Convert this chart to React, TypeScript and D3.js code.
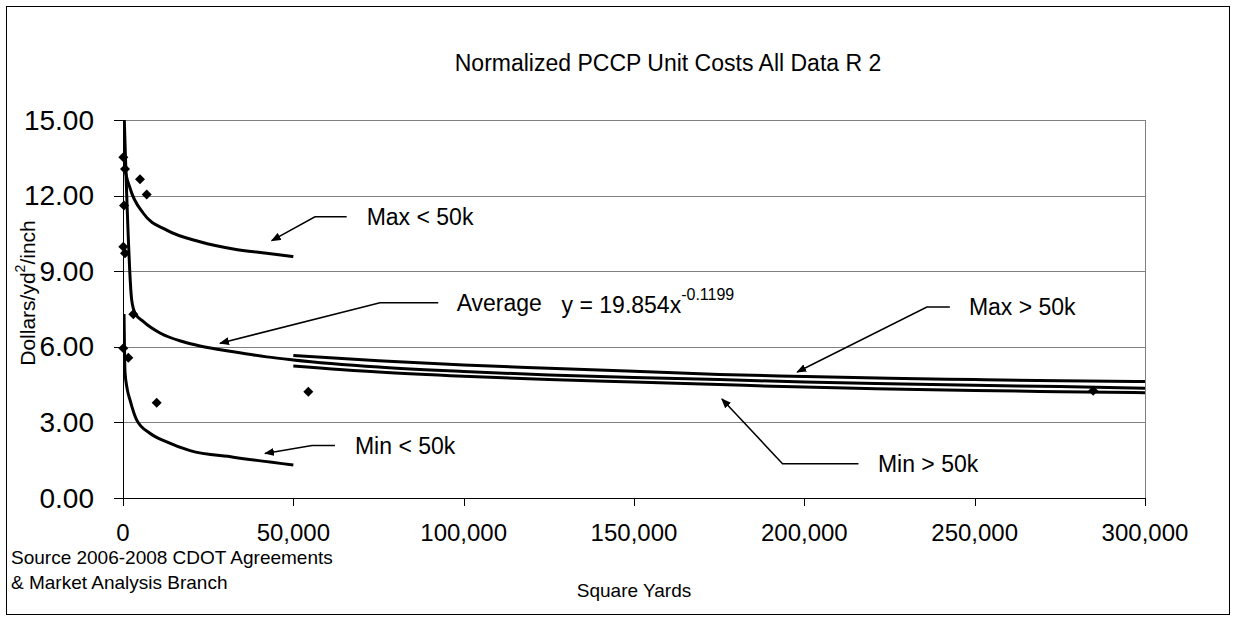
import React from 'react';
import * as d3 from 'd3';

// axis ticks
const xTicks = [0, 50000, 100000, 150000, 200000, 250000, 300000];
const yTicks = [0, 3, 6, 9, 12, 15];

// scatter: square yards vs $/yd2/inch
const projects: [number, number][] = [
  [90, 13.52], [590, 13.06], [4990, 12.65], [6960, 12.04], [290, 11.61],
  [90, 9.97], [590, 9.71], [3020, 7.29], [90, 5.94], [1560, 5.57],
  [9890, 3.78], [54390, 4.22], [284800, 4.26],
];

// curves
const maxUnder50k: [number, number][] = [
  [150, 15], [590, 13.1], [2055, 12.3], [5960, 11.3], [12830, 10.63],
  [22600, 10.17], [32370, 9.88], [42180, 9.71], [50000, 9.58],
];
const minUnder50k: [number, number][] = [
  [300, 7.3], [590, 5.0], [1200, 4.35], [2050, 3.89], [4000, 3.1],
  [7900, 2.57], [12830, 2.23], [19700, 1.88], [32400, 1.62], [50000, 1.31],
];
const average: [number, number][] = [
  [380, 15], [2550, 7.86], [3500, 7.35], [6000, 7.0], [11000, 6.54],
  [17700, 6.2], [22600, 6.03], [32400, 5.8], [42200, 5.6], [50000, 5.48],
  [75000, 5.2], [100000, 5.02], [125000, 4.88], [150000, 4.78], [175000, 4.7],
  [200000, 4.6], [225000, 4.53], [250000, 4.47], [275000, 4.42], [300000, 4.36],
];
const maxOver50k: [number, number][] = [
  [50000, 5.66], [75000, 5.45], [100000, 5.28], [125000, 5.15], [150000, 5.03],
  [175000, 4.9], [200000, 4.82], [225000, 4.75], [250000, 4.7], [275000, 4.65],
  [300000, 4.62],
];
const minOver50k: [number, number][] = [
  [50000, 5.24], [75000, 5.0], [100000, 4.83], [125000, 4.7], [150000, 4.6],
  [175000, 4.5], [200000, 4.4], [225000, 4.33], [250000, 4.27], [275000, 4.22],
  [300000, 4.18],
];

// callouts in data units: arrow tip, elbow, end of leader, text start
const callouts = [
  { label: 'Max < 50k', tip: [43640, 10.21], elbow: [56350, 11.16], end: 65660, textX: 71520 },
  { label: 'Average', tip: [28470, 6.14], elbow: [75430, 7.75], end: 92540, textX: 97940 },
  { label: 'Min < 50k', tip: [41680, 1.77], elbow: [55470, 2.08], end: 62220, textX: 68090 },
  { label: 'Max > 50k', tip: [197900, 5.0], elbow: [235970, 7.58], end: 242720, textX: 248300 },
  { label: 'Min > 50k', tip: [175800, 3.93], elbow: [193600, 1.36], end: 215900, textX: 221600 },
];

const FONT = "'Liberation Sans', Arial, sans-serif";

export default function App() {
  const width = 1236;
  const height = 621;
  const plot = { left: 123, right: 1145, top: 120, bottom: 498 };

  const x = d3.scaleLinear().domain([0, 300000]).range([plot.left, plot.right]);
  const y = d3.scaleLinear().domain([0, 15]).range([plot.bottom, plot.top]);

  const line = d3.line<[number, number]>()
    .x(d => x(d[0]))
    .y(d => y(d[1]))
    .curve(d3.curveMonotoneX);

  const diamond = d3.symbol().type(d3.symbolSquare).size(50)();
  const fmtX = d3.format(',');
  const fmtY = d3.format('.2f');

  const curves = [maxUnder50k, minUnder50k, average, maxOver50k, minOver50k];

  return (
    <svg width={width} height={height} style={{ position: 'absolute', left: 0, top: 0, background: '#fff' }}
      fontFamily={FONT}>
      <defs>
        <marker id="arrow" viewBox="0 0 10 8" refX="9" refY="4" markerWidth="10" markerHeight="8"
          markerUnits="userSpaceOnUse" orient="auto">
          <path d="M0,0 L10,4 L0,8 Z" fill="#000" />
        </marker>
        <clipPath id="plotClip">
          <rect x={plot.left} y={plot.top} width={plot.right - plot.left} height={plot.bottom - plot.top} />
        </clipPath>
      </defs>

      <rect x={6.5} y={6.5} width={width - 13} height={height - 13} fill="#fff" stroke="#000" strokeWidth={1} />

      <text x={668} y={63} textAnchor="middle" dominantBaseline="central" fontSize={23}>
        Normalized PCCP Unit Costs All Data R 2
      </text>

      {/* grid */}
      {yTicks.filter(t => t > 0).map(t => (
        <line key={t} x1={plot.left} x2={plot.right} y1={Math.round(y(t)) + 0.5} y2={Math.round(y(t)) + 0.5}
          stroke="#808080" strokeWidth={1} />
      ))}
      <line x1={plot.right + 0.5} x2={plot.right + 0.5} y1={plot.top} y2={plot.bottom} stroke="#808080" />

      {/* axes */}
      <line x1={plot.left + 0.5} x2={plot.left + 0.5} y1={plot.top} y2={plot.bottom} stroke="#000" />
      <line x1={plot.left} x2={plot.right} y1={plot.bottom + 0.5} y2={plot.bottom + 0.5} stroke="#000" />
      {yTicks.map(t => (
        <g key={t}>
          <line x1={plot.left - 9} x2={plot.left} y1={Math.round(y(t)) + 0.5} y2={Math.round(y(t)) + 0.5} stroke="#000" />
          <text x={94} y={y(t)} textAnchor="end" dominantBaseline="central" fontSize={28}>{fmtY(t)}</text>
        </g>
      ))}
      {xTicks.map(t => (
        <g key={t}>
          <line x1={Math.round(x(t)) + 0.5} x2={Math.round(x(t)) + 0.5} y1={plot.bottom} y2={plot.bottom + 8} stroke="#000" />
          <text x={x(t)} y={532} textAnchor="middle" dominantBaseline="central" fontSize={24}>{fmtX(t)}</text>
        </g>
      ))}

      <text transform="translate(27,293) rotate(-90)" textAnchor="middle" dominantBaseline="central" fontSize={21}>
        Dollars/yd<tspan fontSize={14} dy={-7}>2</tspan><tspan dy={7}>/inch</tspan>
      </text>
      <text x={634} y={590} textAnchor="middle" dominantBaseline="central" fontSize={19}>Square Yards</text>
      <text x={11} y={557} dominantBaseline="central" fontSize={19}>Source 2006-2008 CDOT Agreements</text>
      <text x={11} y={582} dominantBaseline="central" fontSize={19}>&amp; Market Analysis Branch</text>

      {/* curves */}
      <g clipPath="url(#plotClip)">
        {curves.map((c, i) => (
          <path key={i} d={line(c) || ''} fill="none" stroke="#000" strokeWidth={3} />
        ))}
      </g>

      {/* points */}
      {projects.map((p, i) => (
        <path key={i} d={diamond || ''} transform={`translate(${x(p[0])},${y(p[1])}) rotate(45)`} fill="#000" />
      ))}

      {/* callouts */}
      {callouts.map(c => {
        const pts: [number, number][] = [[c.end, c.elbow[1]], [c.elbow[0], c.elbow[1]], [c.tip[0], c.tip[1]]];
        const d = d3.line<[number, number]>().x(p => x(p[0])).y(p => y(p[1]))(pts) || '';
        return (
          <g key={c.label}>
            <path d={d} fill="none" stroke="#000" strokeWidth={1.5} markerEnd="url(#arrow)" />
            <text x={x(c.textX)} y={y(c.elbow[1])} dominantBaseline="central" fontSize={23}>{c.label}</text>
          </g>
        );
      })}

      <text x={x(128750)} y={y(7.75) + 2} dominantBaseline="central" fontSize={23}>
        y = 19.854x<tspan fontSize={16} dy={-11}>-0.1199</tspan>
      </text>
    </svg>
  );
}
